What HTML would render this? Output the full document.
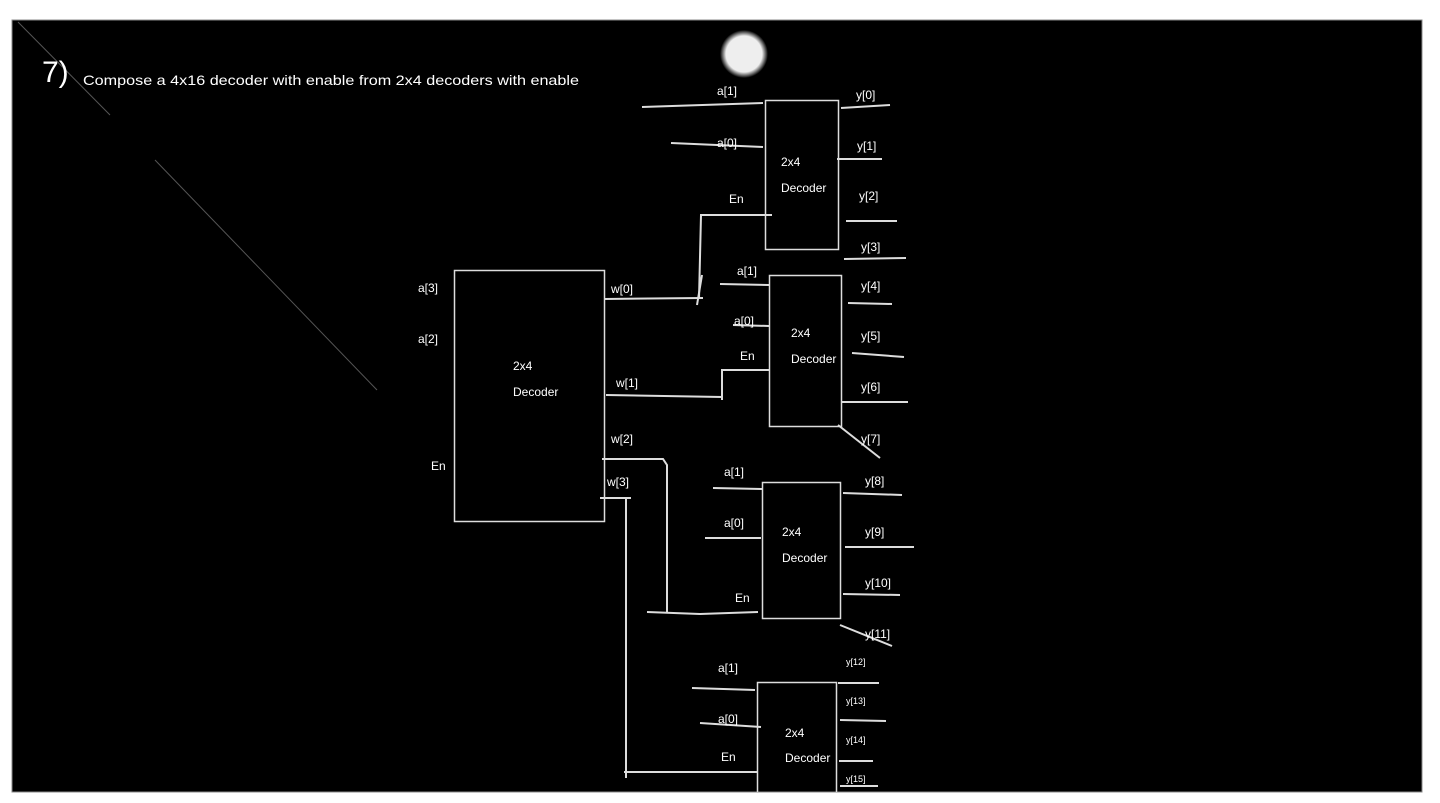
<!DOCTYPE html>
<html><head><style>
html,body{margin:0;padding:0;background:#fff;}
svg{display:block;}
text{font-family:"Liberation Sans",sans-serif;fill:#fff;}
</style></head><body>
<svg width="1440" height="803" viewBox="0 0 1440 803">
<defs><radialGradient id="g"><stop offset="0.75" stop-color="#eee"/><stop offset="1" stop-color="#eee" stop-opacity="0"/></radialGradient></defs>
<rect x="12" y="20" width="1410" height="772" fill="#000" stroke="#888" stroke-width="1"/>
<g stroke="#555" stroke-width="1"><line x1="18" y1="22" x2="110" y2="115"/><line x1="155" y1="160" x2="377" y2="390"/></g>
<circle cx="744" cy="54" r="24" fill="url(#g)"/>
<text x="42" y="82" font-size="30">7)</text>
<text x="83" y="85" font-size="14" textLength="496" lengthAdjust="spacingAndGlyphs">Compose a 4x16 decoder with enable from 2x4 decoders with enable</text>
<g fill="none" stroke="#ddd" stroke-width="1.5">
<rect x="454.5" y="270.5" width="150" height="251"/>
<rect x="765.5" y="100.5" width="73" height="149"/>
<rect x="769.5" y="275.5" width="72" height="151"/>
<rect x="762.5" y="482.5" width="78" height="136"/>
<polyline points="757.5,792 757.5,682.5 836.5,682.5 836.5,792"/>
</g>
<g stroke="#ddd" stroke-width="2" fill="none">
<line x1="642" y1="107" x2="763" y2="103"/><line x1="841" y1="108" x2="890" y2="105"/>
<line x1="671" y1="143" x2="763" y2="147"/><line x1="837" y1="159" x2="882" y2="159"/>
<polyline points="772,215 701,215 699,299"/><line x1="702" y1="275" x2="697" y2="305"/>
<line x1="604" y1="299" x2="703" y2="298"/>
<line x1="846" y1="221" x2="897" y2="221"/><line x1="844" y1="259" x2="906" y2="258"/>
<line x1="720" y1="284" x2="769" y2="285"/><line x1="733" y1="325" x2="769" y2="326"/>
<line x1="848" y1="303" x2="892" y2="304"/><line x1="852" y1="353" x2="904" y2="357"/>
<polyline points="769,370 722,370 722,400"/><line x1="606" y1="395" x2="722" y2="397"/>
<line x1="841" y1="402" x2="908" y2="402"/><line x1="838" y1="425" x2="880" y2="458"/>
<polyline points="602,459 663,459 667,465 667,613"/>
<line x1="600" y1="498" x2="631" y2="498"/><line x1="626" y1="498" x2="626" y2="778"/>
<line x1="713" y1="488" x2="762" y2="489"/><line x1="705" y1="538" x2="761" y2="538"/>
<polyline points="647,612 700,614 758,612"/>
<line x1="843" y1="493" x2="902" y2="495"/><line x1="845" y1="547" x2="914" y2="547"/>
<line x1="843" y1="594" x2="900" y2="595"/><line x1="840" y1="625" x2="892" y2="646"/>
<line x1="692" y1="688" x2="755" y2="690"/><line x1="700" y1="723" x2="761" y2="727"/>
<line x1="624" y1="772" x2="757" y2="772"/>
<line x1="838" y1="683" x2="879" y2="683"/><line x1="840" y1="720" x2="886" y2="721"/>
<line x1="839" y1="761" x2="873" y2="761"/><line x1="840" y1="786" x2="878" y2="786"/>
</g>
<g font-size="12">
<text x="418" y="292">a[3]</text><text x="418" y="343">a[2]</text><text x="431" y="470">En</text>
<text x="513" y="370">2x4</text><text x="513" y="396">Decoder</text>
<text x="611" y="293">w[0]</text><text x="616" y="387">w[1]</text><text x="611" y="443">w[2]</text><text x="607" y="486">w[3]</text>
<text x="717" y="95">a[1]</text><text x="717" y="147">a[0]</text><text x="729" y="203">En</text>
<text x="781" y="166">2x4</text><text x="781" y="192">Decoder</text>
<text x="856" y="99">y[0]</text><text x="857" y="150">y[1]</text><text x="859" y="200">y[2]</text><text x="861" y="251">y[3]</text>
<text x="737" y="275">a[1]</text><text x="734" y="325">a[0]</text><text x="740" y="360">En</text>
<text x="791" y="337">2x4</text><text x="791" y="363">Decoder</text>
<text x="861" y="290">y[4]</text><text x="861" y="340">y[5]</text><text x="861" y="391">y[6]</text><text x="861" y="443">y[7]</text>
<text x="724" y="476">a[1]</text><text x="724" y="527">a[0]</text><text x="735" y="602">En</text>
<text x="782" y="536">2x4</text><text x="782" y="562">Decoder</text>
<text x="865" y="485">y[8]</text><text x="865" y="536">y[9]</text><text x="865" y="587">y[10]</text><text x="865" y="638">y[11]</text>
<text x="718" y="672">a[1]</text><text x="718" y="723">a[0]</text><text x="721" y="761">En</text>
<text x="785" y="737">2x4</text><text x="785" y="762">Decoder</text>
</g>
<g font-size="9">
<text x="846" y="665">y[12]</text><text x="846" y="704">y[13]</text><text x="846" y="743">y[14]</text><text x="846" y="782">y[15]</text>
</g>
</svg>
</body></html>
